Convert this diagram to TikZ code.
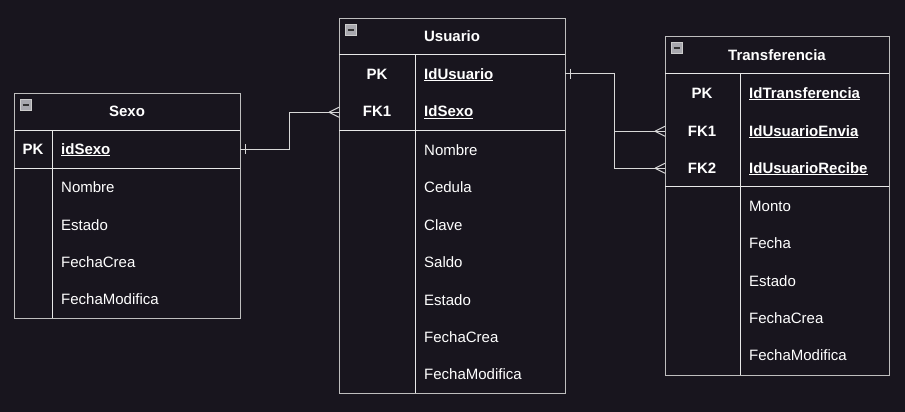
\documentclass[tikz,border=0pt]{standalone}
\usepackage{fontspec}
\setmainfont{Liberation Sans}
\usetikzlibrary{calc}
\definecolor{bgc}{HTML}{18151E}
\definecolor{outerc}{HTML}{BEBEBE}
\definecolor{innerc}{HTML}{E8E8E8}
\definecolor{connc}{HTML}{D8D8D8}
\definecolor{iconc}{HTML}{A8A8AE}
\begin{document}
\begin{tikzpicture}[x=1pt,y=-1pt,
  tblbox/.style={draw=outerc,line width=1.1pt,inner sep=0pt,anchor=north west},
  rowbox/.style={inner sep=0pt,anchor=north west},
  innerln/.style={draw=innerc,line width=1pt},
  conn/.style={draw=connc,line width=1pt},
  txt/.style={text=white,inner sep=0pt,yshift=-2.5pt,font=\fontsize{15}{16}\selectfont,text height=0.72em,text depth=0.22em},
  ttl/.style={txt,font=\fontsize{15}{16}\selectfont\bfseries},
  keyt/.style={txt,font=\fontsize{15}{16}\selectfont\bfseries},
  fld/.style={txt,anchor=west},
  keyf/.style={txt,anchor=west,font=\fontsize{15}{16}\selectfont\bfseries},
  icon/.style={fill=iconc,draw=gray!40,line width=0.6pt,minimum size=11pt,inner sep=0pt,anchor=north west}
]
\fill[bgc] (0,0) rectangle (905,412);
\useasboundingbox (0,0) rectangle (905,412);

% ---------- Sexo ----------
\node[tblbox,minimum width=226pt,minimum height=225pt] (sexo) at (14,93) {};
\node[icon] (sexo-ic) at (20,99) {};
\draw[line width=1.6pt,black!80] ($(sexo-ic.west)+(2.5,0)$) -- ($(sexo-ic.east)+(-2.5,0)$);
\node[ttl] (sexo-t) at (127,111.5) {Sexo};
\draw[innerln] (14,130) -- (240,130);
\draw[innerln] (14,168) -- (240,168);
\draw[innerln] (52,130) -- (52,318);
\node[rowbox,minimum width=226pt,minimum height=38pt] (sexo-pk) at (14,130) {};
\node[keyt] (sexo-pkk) at (33,149) {PK};
\node[keyf] (sexo-pkf) at (61,149) {\underline{idSexo}};
\node[fld] (sexo-f1) at (61,187) {Nombre};
\node[fld] (sexo-f2) at (61,225) {Estado};
\node[fld] (sexo-f3) at (61,262) {FechaCrea};
\node[fld] (sexo-f4) at (61,299) {FechaModifica};

% ---------- Usuario ----------
\node[tblbox,minimum width=226pt,minimum height=375pt] (usu) at (339,18) {};
\node[icon] (usu-ic) at (345,24) {};
\draw[line width=1.6pt,black!80] ($(usu-ic.west)+(2.5,0)$) -- ($(usu-ic.east)+(-2.5,0)$);
\node[ttl] (usu-t) at (452,37) {Usuario};
\draw[innerln] (339,55) -- (565,55);
\draw[innerln] (339,130) -- (565,130);
\draw[innerln] (415,55) -- (415,393);
\node[rowbox,minimum width=226pt,minimum height=37pt] (usu-pk) at (339,55) {};
\node[rowbox,minimum width=226pt,minimum height=38pt] (usu-fk1) at (339,93) {};
\node[keyt] (usu-pkk) at (377,74) {PK};
\node[keyf] (usu-pkf) at (424,74) {\underline{IdUsuario}};
\node[keyt] (usu-fkk) at (377,112) {FK1};
\node[keyf] (usu-fkf) at (424,112) {\underline{IdSexo}};
\node[fld] (usu-f1) at (424,150) {Nombre};
\node[fld] (usu-f2) at (424,187) {Cedula};
\node[fld] (usu-f3) at (424,225) {Clave};
\node[fld] (usu-f4) at (424,262) {Saldo};
\node[fld] (usu-f5) at (424,300) {Estado};
\node[fld] (usu-f6) at (424,337) {FechaCrea};
\node[fld] (usu-f7) at (424,374) {FechaModifica};

% ---------- Transferencia ----------
\node[tblbox,minimum width=224pt,minimum height=339pt] (tr) at (665,36) {};
\node[icon] (tr-ic) at (671,42) {};
\draw[line width=1.6pt,black!80] ($(tr-ic.west)+(2.5,0)$) -- ($(tr-ic.east)+(-2.5,0)$);
\node[ttl] (tr-t) at (777,55) {Transferencia};
\draw[innerln] (665,74) -- (889,74);
\draw[innerln] (665,186) -- (889,186);
\draw[innerln] (740,74) -- (740,375);
\node[rowbox,minimum width=224pt,minimum height=38pt] (tr-pk) at (665,74) {};
\node[rowbox,minimum width=224pt,minimum height=38pt] (tr-fk1) at (665,112) {};
\node[rowbox,minimum width=224pt,minimum height=36pt] (tr-fk2) at (665,150) {};
\node[keyt] (tr-pkk) at (702,93) {PK};
\node[keyf] (tr-pkf) at (749,93) {\underline{IdTransferencia}};
\node[keyt] (tr-fk1k) at (702,131) {FK1};
\node[keyf] (tr-fk1f) at (749,131) {\underline{IdUsuarioEnvia}};
\node[keyt] (tr-fk2k) at (702,168) {FK2};
\node[keyf] (tr-fk2f) at (749,168) {\underline{IdUsuarioRecibe}};
\node[fld] (tr-f1) at (749,206) {Monto};
\node[fld] (tr-f2) at (749,243) {Fecha};
\node[fld] (tr-f3) at (749,281) {Estado};
\node[fld] (tr-f4) at (749,318) {FechaCrea};
\node[fld] (tr-f5) at (749,355) {FechaModifica};

% ---------- Connectors ----------
% Sexo -> Usuario
\draw[conn] (sexo-pk.east) -- ++(49,0) |- (usu-fk1.west);
\draw[conn] ($(sexo-pk.east)+(5,-5)$) -- ($(sexo-pk.east)+(5,5)$);
\draw[conn] ($(usu-fk1.west)+(-10,0)$) -- ($(usu-fk1.west)+(0,-5)$);
\draw[conn] ($(usu-fk1.west)+(-10,0)$) -- ($(usu-fk1.west)+(0,5)$);
% Usuario -> Transferencia
\coordinate (jn) at ($(usu-pk.east)+(49,0)$);
\draw[conn] (usu-pk.east) -- (jn) |- (tr-fk1.west);
\draw[conn] (jn) |- (tr-fk2.west);
\draw[conn] ($(usu-pk.east)+(5,-5)$) -- ($(usu-pk.east)+(5,5)$);
\draw[conn] ($(tr-fk1.west)+(-10,0)$) -- ($(tr-fk1.west)+(0,-5)$);
\draw[conn] ($(tr-fk1.west)+(-10,0)$) -- ($(tr-fk1.west)+(0,5)$);
\draw[conn] ($(tr-fk2.west)+(-10,0)$) -- ($(tr-fk2.west)+(0,-5)$);
\draw[conn] ($(tr-fk2.west)+(-10,0)$) -- ($(tr-fk2.west)+(0,5)$);
\end{tikzpicture}
\end{document}
